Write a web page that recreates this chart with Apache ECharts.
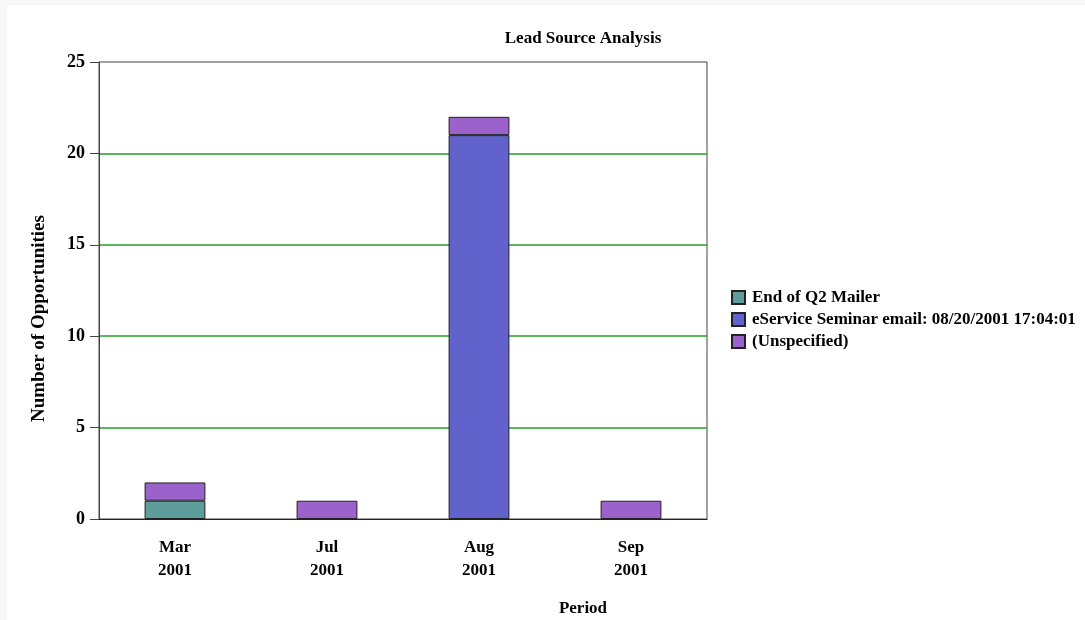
<!DOCTYPE html>
<html>
<head>
<meta charset="utf-8">
<script src="https://cdn.jsdelivr.net/npm/echarts@6/dist/echarts.min.js"></script>
<style>
  html, body { margin: 0; padding: 0; background: #f7f7f7; }
  #chart { position: absolute; left: 7px; top: 5px; width: 1078px; height: 615px; background: #fff; }
</style>
</head>
<body>
<div id="chart"></div>
<script>
// periods on the x axis
const periods = ['Mar\n2001', 'Jul\n2001', 'Aug\n2001', 'Sep\n2001']
// opportunities per lead source (null = no segment)
const mailer = [1, null, null, null]
const seminar = [null, null, 21, null]
const unspecified = [1, 1, 1, 1]

const seriesNames = ['End of Q2 Mailer', 'eService Seminar email: 08/20/2001 17:04:01', '(Unspecified)']
const seriesColors = ['#5f9c9c', '#6262cc', '#9c62cc']
const seriesData = [mailer, seminar, unspecified]

const font = 'Liberation Serif'

const chart = echarts.init(document.getElementById('chart'))

chart.setOption({
  animation: false,
  textStyle: { fontFamily: font },
  title: [
    {
      text: 'Lead Source Analysis',
      left: 571,
      top: 20,
      textAlign: 'center',
      textStyle: { fontFamily: font, fontSize: 17, fontWeight: 'bold', color: '#000' },
    },
    {
      text: 'Period',
      left: 571,
      top: 590,
      textAlign: 'center',
      textStyle: { fontFamily: font, fontSize: 17, fontWeight: 'bold', color: '#000' },
    },
  ],
  legend: {
    orient: 'vertical',
    left: 719,
    top: 279,
    itemWidth: 13,
    itemHeight: 13,
    itemGap: 5,
    icon: 'rect',
    data: seriesNames,
    textStyle: { fontFamily: font, fontSize: 17, fontWeight: 'bold', color: '#000', lineHeight: 14, padding: [0, 0, 0, 2] },
  },
  grid: {
    left: 92,
    top: 57,
    width: 608,
    height: 457,
    show: true,
    borderColor: '#444',
    borderWidth: 1,
  },
  xAxis: {
    type: 'category',
    data: periods,
    axisLine: { lineStyle: { color: '#222' } },
    axisTick: { alignWithLabel: true, length: 9, lineStyle: { color: '#444' } },
    axisLabel: { fontFamily: font, fontSize: 17, fontWeight: 'bold', color: '#000', margin: 17, lineHeight: 23 },
  },
  yAxis: {
    type: 'value',
    min: 0,
    max: 25,
    interval: 5,
    name: 'Number of Opportunities',
    nameLocation: 'middle',
    nameGap: 50,
    nameTextStyle: { fontFamily: font, fontSize: 19, fontWeight: 'bold', color: '#000', padding: [0, 56, 0, 0] },
    axisLine: { show: true, lineStyle: { color: '#444' } },
    axisTick: { show: true, length: 9, lineStyle: { color: '#444' } },
    axisLabel: { fontFamily: font, fontSize: 18, fontWeight: 'bold', color: '#000', margin: 14 },
    splitLine: { showMinLine: false, showMaxLine: false, lineStyle: { color: '#22a022', width: 1.5 } },
  },
  series: seriesNames.map((name, i) => ({
    name,
    type: 'bar',
    stack: 'total',
    barWidth: '40%',
    data: seriesData[i],
    itemStyle: { color: seriesColors[i], borderColor: '#222', borderWidth: 1 },
  })),
})
</script>
</body>
</html>
